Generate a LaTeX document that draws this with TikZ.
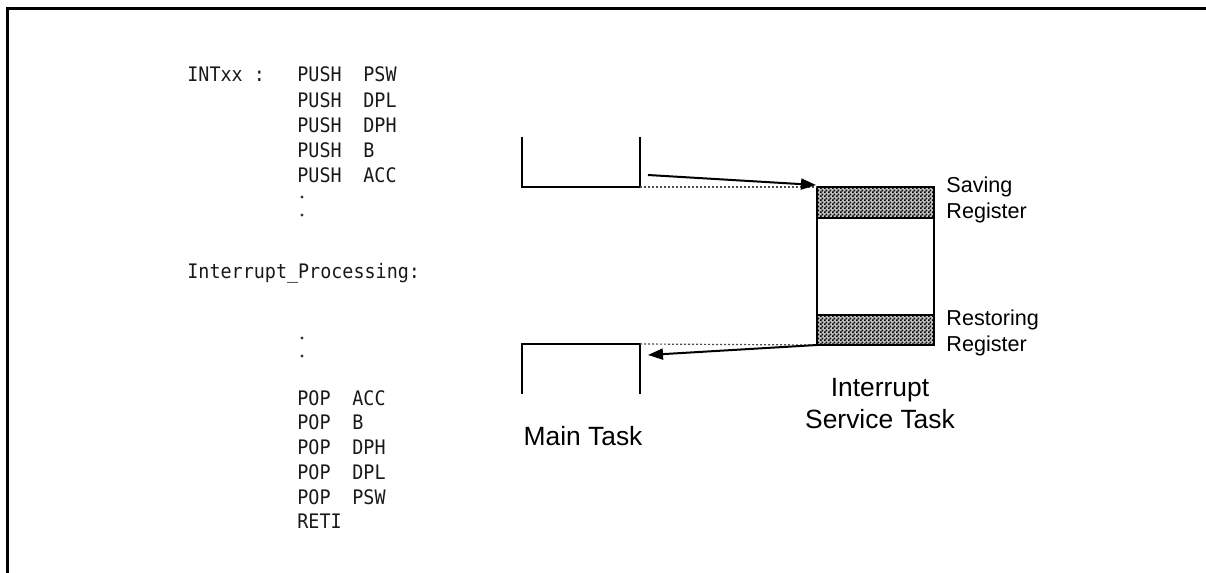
\documentclass[tikz,border=0pt]{standalone}
\usepackage{fontspec}
\setmainfont{Liberation Sans}
\newfontfamily\codefont[FakeStretch=0.92]{DejaVu Sans Mono}
\usetikzlibrary{arrows.meta,patterns}

% fine 1pt checkerboard used for the register save/restore bands
\pgfdeclarepatternformonly{finecheck}{\pgfpointorigin}{\pgfqpoint{2pt}{2pt}}{\pgfqpoint{2pt}{2pt}}{%
  \pgfpathrectangle{\pgfpointorigin}{\pgfqpoint{1pt}{1pt}}%
  \pgfpathrectangle{\pgfqpoint{1pt}{1pt}}{\pgfqpoint{1pt}{1pt}}%
  \pgfusepath{fill}}

\tikzset{
  frameline/.style={line width=1.3pt},
  taskline/.style={line width=1pt, line cap=rect},
  guide/.style={line width=0.6pt, black!70, dash pattern=on 1pt off 1pt},
  flow/.style={line width=1pt, -{Triangle[length=7.5pt,width=5.5pt]}},
  bandbase/.style={fill=black!25},
  band/.style={pattern=finecheck, pattern color=black},
  code/.style={font=\codefont\fontsize{10}{11}\selectfont, text=black!90, anchor=base west, inner sep=0pt},
  ellipsis/.style={circle, fill=black!80, inner sep=0pt, minimum size=1.6pt},
  reglabel/.style={font=\fontsize{10.8}{13}\selectfont, align=left, anchor=west, inner sep=0pt},
  tasklabel/.style={font=\fontsize{13.2}{16}\selectfont, align=center, inner sep=0pt},
}

\begin{document}
\begin{tikzpicture}[x=0.5pt, y=-0.5pt]
\useasboundingbox (0,0) rectangle (1206,573);

% outer frame (top and left edges)
\draw[frameline] (7.5,573) -- (7.5,8.5) -- (1206,8.5);

% ---- assembly listing ----
\node[code] (lblint) at (187,82) {INTxx :};
\foreach \y/\r [count=\i] in {82/PSW, 107/DPL, 132/DPH, 157/B, 182/ACC} {
  \node[code] (push\i) at (297,\y) {PUSH};
  \node[code] (pushop\i) at (363,\y) {\r};
}
% elided instructions shown as two stacked dots
\node[ellipsis] (dotA1) at (302,197) {};
\node[ellipsis] (dotA2) at (302,215) {};

\node[code] (lblproc) at (187,278) {Interrupt\_Processing:};
\node[ellipsis] (dotB1) at (302,338) {};
\node[ellipsis] (dotB2) at (302,356) {};

\foreach \y/\r [count=\i] in {405/ACC, 429/B, 454/DPH, 479/DPL, 504/PSW} {
  \node[code] (pop\i) at (297,\y) {POP};
  \node[code] (popop\i) at (352,\y) {\r};
}
\node[code] (reti) at (297,528) {RETI};

% ---- main task: upper and lower open boxes ----
\coordinate (mtUL) at (522,138);
\coordinate (mtUBL) at (522,187);
\coordinate (mtUBR) at (640,187);
\coordinate (mtUR) at (640,138);
\draw[taskline] (mtUL) -- (mtUBL) -- (mtUBR) -- (mtUR);

\coordinate (mtLL) at (522,393);
\coordinate (mtLTL) at (522,344);
\coordinate (mtLTR) at (640,344);
\coordinate (mtLR) at (640,393);
\draw[taskline] (mtLL) -- (mtLTL) -- (mtLTR) -- (mtLR);

\node[tasklabel] (mainlbl) at (583,436) {Main Task};

% ---- interrupt service task ----
\coordinate (isrTL) at (817,187);
\coordinate (isrTR) at (934,187);
\coordinate (saveBL) at (817,218);
\coordinate (saveBR) at (934,218);
\coordinate (restTL) at (817,315);
\coordinate (restTR) at (934,315);
\coordinate (isrBL) at (817,345);
\coordinate (isrBR) at (934,345);

\fill[bandbase] (isrTL) rectangle (saveBR);
\fill[bandbase] (restTL) rectangle (isrBR);
\fill[band] (isrTL) rectangle (saveBR);
\fill[band] (restTL) rectangle (isrBR);
\draw[taskline] (isrTL) rectangle (isrBR);
\draw[taskline] (saveBL) -- (saveBR);
\draw[taskline] (restTL) -- (restTR);

\node[reglabel] (savelbl) at (946,200) {Saving\\Register};
\node[reglabel] (restlbl) at (946,333) {Restoring\\Register};
\node[tasklabel] (isrlbl) at (880,404) {Interrupt\\Service Task};

% ---- level guides and transfer arrows ----
\draw[guide] (mtUBR) -- (isrTL);
\draw[guide] (mtLTR) -- (isrBL);

\coordinate (goTail) at (648,175);
\coordinate (goHead) at (816,185);
\draw[flow] (goTail) -- (goHead);

\coordinate (backHead) at (648,355);
\draw[flow] (isrBL) -- (backHead);
\end{tikzpicture}
\end{document}
